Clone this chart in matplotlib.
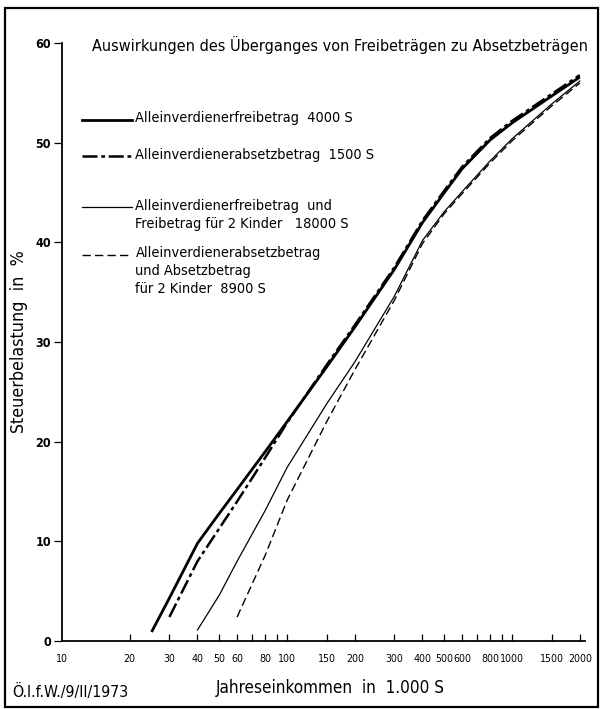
import numpy as np
import matplotlib
matplotlib.use("Agg")
import matplotlib.pyplot as plt
from matplotlib.patches import Rectangle

plt.rcParams['font.family'] = ['DejaVu Sans']
plt.rcParams['font.stretch'] = 'condensed'

# Jahreseinkommen in 1.000 S / Steuerbelastung in %
inc_frei = [25, 30, 40, 50, 60, 80, 100, 150, 200, 300, 400, 500, 600, 800, 1000, 1500, 2000]
tax_frei = [0.9, 4.3, 9.8, 12.8, 15.2, 19.0, 22.0, 27.5, 31.5, 37.3, 42.0, 45.0, 47.4, 50.3, 52.0, 54.7, 56.6]

inc_abs = [30, 40, 50, 60, 80, 100, 150, 200, 300, 400, 500, 600, 800, 1000, 1500, 2000]
tax_abs = [2.4, 8.0, 11.3, 14.0, 18.4, 21.9, 27.7, 31.7, 37.5, 42.2, 45.2, 47.6, 50.5, 52.2, 54.9, 56.8]

inc_frei_k = [40, 50, 60, 80, 100, 150, 200, 300, 400, 500, 600, 800, 1000, 1500, 2000]
tax_frei_k = [1.1, 4.6, 8.0, 13.1, 17.4, 23.8, 28.0, 34.6, 40.2, 43.1, 45.1, 48.2, 50.4, 53.9, 56.2]

inc_abs_k = [60, 80, 100, 150, 200, 300, 400, 500, 600, 800, 1000, 1500, 2000]
tax_abs_k = [2.4, 8.6, 14.1, 22.0, 27.2, 34.2, 39.9, 42.9, 44.9, 48.0, 50.2, 53.7, 56.0]

xtick_pos = [20, 30, 40, 50, 60, 70, 80, 90, 100, 150, 200, 300, 400, 500, 600, 700, 800, 900,
             1000, 1500, 2000]
xtick_lab = [10, 20, 30, 40, 50, 60, 80, 100, 150, 200, 300, 400, 500, 600, 800, 1000, 1500, 2000]
ytick_pos = [0, 10, 20, 30, 40, 50, 60]

fig = plt.figure(figsize=(6.02, 7.09), dpi=100)
ax = fig.add_axes([0.103, 0.096, 0.868, 0.843])
renderer = fig.canvas.get_renderer()


def fit(t, w_px, rotated=False):
    # Schriftgröße so anpassen, dass der Text die Breite aus der Vorlage hat
    bb = t.get_window_extent(renderer)
    cur = bb.height if rotated else bb.width
    t.set_fontsize(t.get_fontsize() * w_px / cur)
    return t.get_fontsize()


ax.plot(inc_frei, tax_frei, color='black', lw=2.0, solid_capstyle='butt')
ax.plot(inc_abs, tax_abs, color='black', lw=1.8, ls=(0, (6, 1.5, 1.5, 1.5)))
ax.plot(inc_frei_k, tax_frei_k, color='black', lw=0.9)
ax.plot(inc_abs_k, tax_abs_k, color='black', lw=1.0, ls=(0, (6, 3)))

ax.set_xscale('log')
ax.set_xlim(10, 2100)
ax.set_ylim(0, 60)
for s in ['top', 'right']:
    ax.spines[s].set_visible(False)
ax.spines['left'].set_linewidth(1.3)
ax.spines['bottom'].set_linewidth(1.3)

ax.xaxis.set_minor_locator(matplotlib.ticker.NullLocator())
ax.set_xticks(xtick_pos)
ax.set_xticklabels([])
ax.tick_params(axis='x', direction='in', length=5, width=0.9)

t100 = ax.text(100, -1.3, '100', ha='center', va='top', fontsize=9)
xfs = fit(t100, 18)
t100.remove()
for v in xtick_lab:
    ax.text(v, -1.3, str(v), ha='center', va='top', fontsize=xfs)

ax.set_yticks(ytick_pos)
ax.set_yticklabels([str(v) for v in ytick_pos], fontsize=9, fontweight='bold')
ax.tick_params(axis='y', direction='out', length=6, width=0.9, pad=2)

yl = ax.set_ylabel('Steuerbelastung  in  %', fontsize=11)
fit(yl, 182, rotated=True)
ax.yaxis.set_label_coords(-0.065, 0.5)

xl = fig.text(0.548, 0.03, 'Jahreseinkommen  in  1.000 S', ha='center', va='center', fontsize=11)
fit(xl, 229)

title = fig.text(0.153, 0.936, 'Auswirkungen des Überganges von Freibeträgen zu Absetzbeträgen',
                 ha='left', va='center', fontsize=14)
fit(title, 498)

# Legende
leg_items = [
    (0.831, dict(lw=2.0), ['Alleinverdienerfreibetrag  4000 S']),
    (0.780, dict(lw=1.8, ls=(0, (6, 1.5, 1.5, 1.5))), ['Alleinverdienerabsetzbetrag  1500 S']),
    (0.708, dict(lw=0.9), ['Alleinverdienerfreibetrag  und', 'Freibetrag für 2 Kinder   18000 S']),
    (0.641, dict(lw=1.0, ls=(0, (6, 3))), ['Alleinverdienerabsetzbetrag', 'und Absetzbetrag',
                                            'für 2 Kinder  8900 S']),
]
probe = fig.text(0, 0, leg_items[0][2][0], fontsize=11)
lfs = fit(probe, 217)
probe.remove()
for y, style, lines in leg_items:
    fig.add_artist(plt.Line2D([0.136, 0.219], [y, y], color='black', **style))
    for i, t in enumerate(lines):
        fig.text(0.225, y + 0.002 - i * 0.0255, t, ha='left', va='center', fontsize=lfs)

foot = fig.text(0.02, 0.024, 'Ö.I.f.W./9/II/1973', ha='left', va='center', fontsize=10)
fit(foot, 116)

# Rahmen
fig.add_artist(Rectangle((0.008, 0.003), 0.985, 0.986, transform=fig.transFigure,
                         fill=False, ec='black', lw=1.6))

fig.savefig('out.png', dpi=100)
